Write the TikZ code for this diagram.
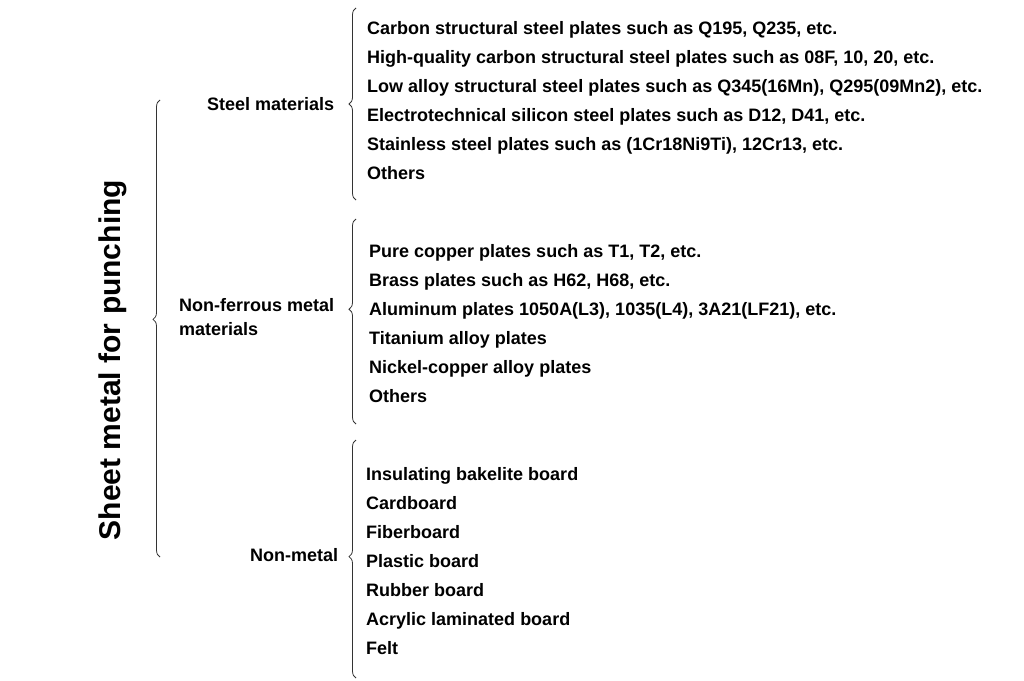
\documentclass[tikz,border=0pt]{standalone}
\usepackage{fontspec}
\setmainfont{Liberation Sans}
\usepackage{tikz}
\usetikzlibrary{positioning,decorations.pathreplacing}
\tikzset{node distance=29pt, auto}
\tikzset{item/.style={anchor=west, inner sep=0pt, text height=13pt, text depth=4pt, font=\bfseries\fontsize{18}{20}\selectfont},
	grp/.style={anchor=west, inner sep=0pt, align=left, font=\bfseries\fontsize{18}{24}\selectfont},
	brc/.style={decorate, decoration={brace, amplitude=7pt}, line width=0.8pt, black!80}}

\begin{document}
\begin{tikzpicture}[x=1pt, y=-1pt]
		\useasboundingbox (0,0) rectangle (1024,680);
		\node(T)[rotate=90, inner sep=0pt, font=\bfseries\fontsize{30}{32}\selectfont] at (113,360){Sheet metal for punching};
		\node(G1)[grp] at (207,104){Steel materials};
		\node(G2)[grp] at (179,317){Non-ferrous metal\\materials};
		\node(G3)[grp] at (250,555){Non-metal};
		\node(A1)[item] at (367,30){Carbon structural steel plates such as Q195, Q235, etc.};
		\node(A2)[below=of A1.west, item]{High-quality carbon structural steel plates such as 08F, 10, 20, etc.};
		\node(A3)[below=of A2.west, item]{Low alloy structural steel plates such as Q345(16Mn), Q295(09Mn2), etc.};
		\node(A4)[below=of A3.west, item]{Electrotechnical silicon steel plates such as D12, D41, etc.};
		\node(A5)[below=of A4.west, item]{Stainless steel plates such as (1Cr18Ni9Ti), 12Cr13, etc.};
		\node(A6)[below=of A5.west, item]{Others};
		\node(B1)[item] at (369,253){Pure copper plates such as T1, T2, etc.};
		\node(B2)[below=of B1.west, item]{Brass plates such as H62, H68, etc.};
		\node(B3)[below=of B2.west, item]{Aluminum plates 1050A(L3), 1035(L4), 3A21(LF21), etc.};
		\node(B4)[below=of B3.west, item]{Titanium alloy plates};
		\node(B5)[below=of B4.west, item]{Nickel-copper alloy plates};
		\node(B6)[below=of B5.west, item]{Others};
		\node(C1)[item] at (366,476){Insulating bakelite board};
		\node(C2)[below=of C1.west, item]{Cardboard};
		\node(C3)[below=of C2.west, item]{Fiberboard};
		\node(C4)[below=of C3.west, item]{Plastic board};
		\node(C5)[below=of C4.west, item]{Rubber board};
		\node(C6)[below=of C5.west, item]{Acrylic laminated board};
		\node(C7)[below=of C6.west, item]{Felt};
		\coordinate(T0) at (160,557);
		\coordinate(T1) at (160,100);
		\coordinate(A0) at (356,200);
		\coordinate(A7) at (356,8);
		\coordinate(B0) at (356,424);
		\coordinate(B7) at (356,219);
		\coordinate(C0) at (356,678);
		\coordinate(C8) at (356,440);
		\draw[brc, decoration={aspect=0.52}](T0) to (T1);
		\draw[brc](A0) to (A7);
		\draw[brc, decoration={aspect=0.56}](B0) to (B7);
		\draw[brc, decoration={aspect=0.51}](C0) to (C8);
	\end{tikzpicture}
\end{document}
